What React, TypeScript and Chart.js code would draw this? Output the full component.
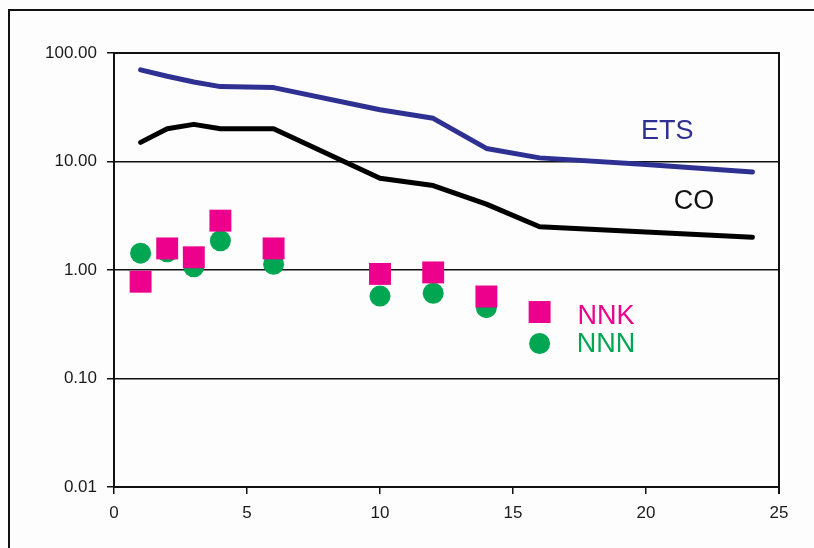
import React, { useEffect, useRef } from "react";
import { Chart, registerables } from "chart.js";

Chart.register(...registerables);

const etsX = [1, 2, 3, 4, 6, 10, 12, 14, 16, 20, 24];
const etsY = [70, 61, 54, 49, 48, 30, 25, 13.2, 10.8, 9.4, 8];

const coX = [1, 2, 3, 4, 6, 10, 12, 14, 16, 24];
const coY = [15, 20, 22, 20, 20, 7, 6, 4.05, 2.5, 2];

const nnkX = [1, 2, 3, 4, 6, 10, 12, 14, 16];
const nnkY = [0.78, 1.58, 1.31, 2.85, 1.58, 0.92, 0.95, 0.57, 0.41];

const nnnX = [1, 2, 3, 4, 6, 10, 12, 14, 16];
const nnnY = [1.43, 1.47, 1.07, 1.86, 1.13, 0.575, 0.61, 0.45, 0.21];

const yTicks = [0.01, 0.1, 1, 10, 100];

const labels = [
  { text: "ETS", x: 20.8, y: 18.7, color: "#2e3192" },
  { text: "CO", x: 21.8, y: 4.24, color: "#111111" },
  { text: "NNK", x: 18.5, y: 0.37, color: "#ec008c" },
  { text: "NNN", x: 18.5, y: 0.204, color: "#00a651" },
];

const fontFamily = "'Liberation Sans', Arial, sans-serif";

const zip = (xs: number[], ys: number[]) => xs.map((x, i) => ({ x, y: ys[i] }));

export default function App() {
  const ref = useRef<HTMLCanvasElement | null>(null);

  useEffect(() => {
    if (!ref.current) return;
    const framePlugin = {
      id: "frame",
      afterDraw(chart: any) {
        const { ctx, chartArea } = chart;
        ctx.save();
        ctx.strokeStyle = "#111";
        ctx.lineWidth = 2;
        ctx.beginPath();
        ctx.moveTo(chartArea.left, chartArea.top);
        ctx.lineTo(chartArea.right, chartArea.top);
        ctx.lineTo(chartArea.right, chartArea.bottom + 7);
        ctx.stroke();
        const xs = chart.scales.x;
        const ys = chart.scales.y;
        ctx.textAlign = "center";
        ctx.textBaseline = "middle";
        ctx.font = "27px " + fontFamily;
        labels.forEach((l) => {
          ctx.fillStyle = l.color;
          ctx.fillText(l.text, xs.getPixelForValue(l.x), ys.getPixelForValue(l.y));
        });
        ctx.restore();
      },
    };

    const chart = new Chart(ref.current, {
      type: "scatter",
      data: {
        datasets: [
          {
            label: "NNK",
            data: zip(nnkX, nnkY),
            pointStyle: "rect",
            pointRadius: 15.5,
            backgroundColor: "#ec008c",
            borderWidth: 0,
            showLine: false,
          },
          {
            label: "NNN",
            data: zip(nnnX, nnnY),
            pointStyle: "circle",
            pointRadius: 10.5,
            backgroundColor: "#00a651",
            borderWidth: 0,
            showLine: false,
          },
          {
            label: "ETS",
            data: zip(etsX, etsY),
            showLine: true,
            borderColor: "#2e3192",
            borderWidth: 5,
            pointRadius: 0,
            borderCapStyle: "round",
            borderJoinStyle: "round",
          },
          {
            label: "CO",
            data: zip(coX, coY),
            showLine: true,
            borderColor: "#000000",
            borderWidth: 5,
            pointRadius: 0,
            borderCapStyle: "round",
            borderJoinStyle: "round",
          },
        ],
      },
      options: {
        animation: false,
        responsive: false,
        layout: { padding: { left: 0, top: 53, right: 35, bottom: 0 } },
        plugins: { legend: { display: false }, tooltip: { enabled: false } },
        scales: {
          x: {
            type: "linear",
            min: 0,
            max: 25,
            ticks: {
              stepSize: 5,
              color: "#1a1a1a",
              padding: 9,
              font: { family: fontFamily, size: 17 },
            },
            grid: { drawOnChartArea: false, color: "#111", tickLength: 7, lineWidth: 1.5 },
            border: { color: "#111", width: 2 },
            afterFit: (s: any) => {
              s.height = 61;
            },
          },
          y: {
            type: "logarithmic",
            min: 0.01,
            max: 100,
            afterBuildTicks: (s: any) => {
              s.ticks = yTicks.map((v) => ({ value: v }));
            },
            ticks: {
              color: "#1a1a1a",
              padding: 10,
              callback: (v: any) => Number(v).toFixed(2),
              font: { family: fontFamily, size: 17 },
            },
            grid: { color: "#111", tickLength: 7, lineWidth: 1.5 },
            border: { color: "#111", width: 2 },
            afterFit: (s: any) => {
              s.width = 114;
            },
          },
        },
      },
      plugins: [framePlugin],
    });
    return () => chart.destroy();
  }, []);

  return (
    <div style={{ position: "fixed", left: 0, top: 0, width: 814, height: 548, background: "#fdfdfd" }}>
      <div
        style={{
          position: "absolute",
          left: 8,
          top: 9,
          width: 820,
          height: 560,
          borderLeft: "2px solid #111",
          borderTop: "2px solid #111",
        }}
      />
      <canvas ref={ref} width={814} height={548} style={{ position: "absolute", left: 0, top: 0 }} />
    </div>
  );
}
